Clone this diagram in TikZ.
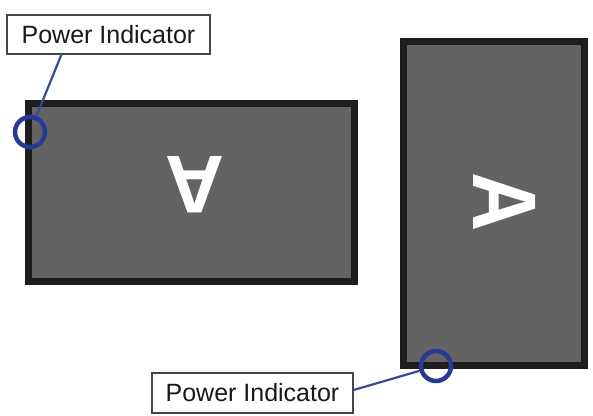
\documentclass[tikz,border=0pt]{standalone}
\usepackage{fontspec}
\setmainfont{Liberation Sans}
\definecolor{screenfill}{RGB}{100,98,98}
\definecolor{screenedge}{RGB}{30,30,30}
\definecolor{ledblue}{RGB}{38,58,150}
\definecolor{leadblue}{RGB}{55,75,150}
\definecolor{boxedge}{RGB}{70,70,70}
\tikzset{
  screen/.style={draw=screenedge, fill=screenfill, line width=7pt},
  ledring/.style={circle, draw=ledblue, line width=4.5pt, minimum size=30pt, inner sep=0pt},
  labelbox/.style={draw=boxedge, line width=1.2pt, fill=white, inner sep=0pt,
    font=\fontsize{25}{30}\selectfont, text=black!90},
  leadline/.style={draw=leadblue, line width=2.2pt},
  bigletter/.style={text=white, inner sep=0pt, font=\fontsize{82}{82}\selectfont\bfseries}
}
\begin{document}
\begin{tikzpicture}[x=1pt,y=1pt]
\useasboundingbox (0,0) rectangle (593,-415);
% screens
\draw[screen] (28.5,-103.5) rectangle (354.5,-281.5);
\draw[screen] (403.5,-41.5) rectangle (584.5,-365.5);
% letters
\node[bigletter, rotate=180] (la) at (195,-185) {A};
\node[bigletter, rotate=-90] (ra) at (505,-202) {\scalebox{1}[1.1]{A}};
% indicator rings
\node[ledring] (c1) at (30,-132) {};
\node[ledring] (c2) at (436,-366) {};
% labels
\node[labelbox, minimum width=203pt, minimum height=39pt] (lab1) at (108.5,-34.5) {Power Indicator};
\node[labelbox, minimum width=201pt, minimum height=40pt] (lab2) at (252.5,-393) {Power Indicator};
% leader lines
\draw[leadline] ([xshift=55pt]lab1.south west) -- (c1);
\draw[leadline] ([yshift=3pt]lab2.east) -- (c2);
\end{tikzpicture}
\end{document}
